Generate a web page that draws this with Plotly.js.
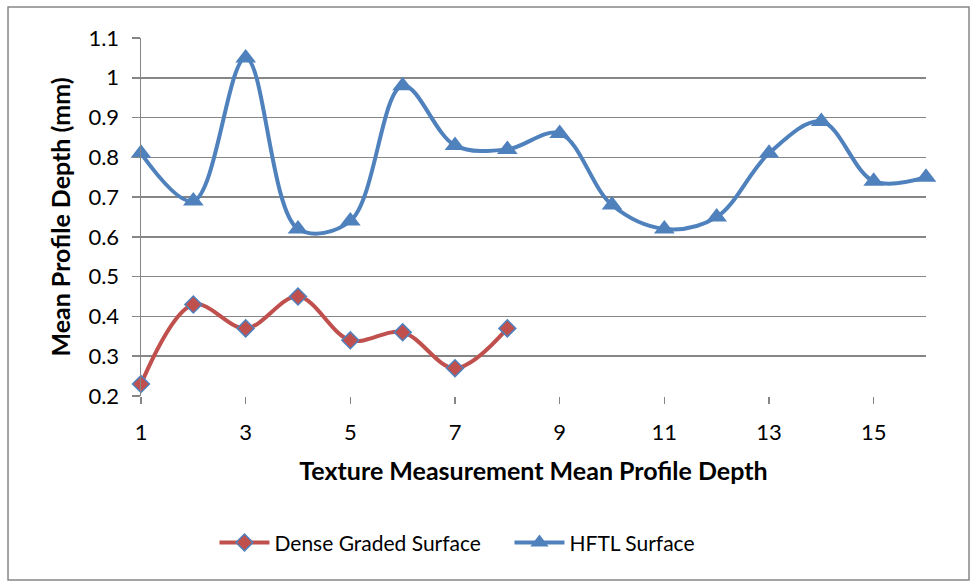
<!DOCTYPE html>
<html>
<head>
<meta charset="utf-8">
<script src="https://cdn.plot.ly/plotly-3.0.1.min.js"></script>
<style>
html,body{margin:0;padding:0;background:#fff;}
#chart{width:973px;height:583px;}
</style>
</head>
<body>
<div id="chart"></div>
<script>
const xDense = [1, 2, 3, 4, 5, 6, 7, 8];
const yDense = [0.23, 0.43, 0.37, 0.45, 0.34, 0.36, 0.27, 0.37];
const xHFTL = [1, 2, 3, 4, 5, 6, 7, 8, 9, 10, 11, 12, 13, 14, 15, 16];
const yHFTL = [0.81, 0.69, 1.05, 0.62, 0.64, 0.98, 0.83, 0.82, 0.86, 0.68, 0.62, 0.65, 0.81, 0.89, 0.74, 0.75];
const xTickVals = [1, 3, 5, 7, 9, 11, 13, 15];
const yTickVals = [0.2, 0.3, 0.4, 0.5, 0.6, 0.7, 0.8, 0.9, 1.0, 1.1];
const yTickText = ['0.2', '0.3', '0.4', '0.5', '0.6', '0.7', '0.8', '0.9', '1', '1.1'];
const seriesNames = ['Dense Graded Surface', 'HFTL Surface'];

const FONT = 'Lato, "Liberation Sans", sans-serif';

const traces = [
  {
    x: xDense, y: yDense, name: seriesNames[0], type: 'scatter', mode: 'lines+markers', cliponaxis: false,
    line: {color: '#C0504D', width: 4, shape: 'spline', smoothing: 1},
    marker: {symbol: 'diamond', size: 13, color: '#C0504D', line: {color: '#4F81BD', width: 1.5}}
  },
  {
    x: xHFTL, y: yHFTL, name: seriesNames[1], type: 'scatter', mode: 'lines+markers', cliponaxis: false,
    line: {color: '#4F81BD', width: 4, shape: 'spline', smoothing: 1},
    marker: {symbol: 'triangle-up', size: 18, color: '#4F81BD', line: {color: '#4F81BD', width: 0}}
  }
];

const layout = {
  width: 973, height: 583,
  margin: {l: 141, r: 47, t: 38, b: 187},
  paper_bgcolor: '#fff', plot_bgcolor: '#fff',
  font: {family: FONT, size: 22, color: '#000'},
  showlegend: true,
  legend: {orientation: 'h', x: 0.0936, xanchor: 'left', y: -0.41, yanchor: 'middle',
           font: {family: FONT, size: 21, color: '#000'}, itemwidth: 50, tracegroupgap: 0,
           entrywidth: 230, entrywidthmode: 'pixels'},
  xaxis: {
    range: [1, 16], tickvals: xTickVals, ticks: 'outside', ticklen: 7, tickcolor: '#868686', tickwidth: 1.5,
    ticklabelstandoff: 10,
    showgrid: false, zeroline: false, showline: false,
    tickfont: {family: FONT, size: 22},
    title: {text: '<b>Texture Measurement Mean Profile Depth</b>', font: {family: FONT, size: 25}, standoff: 18}
  },
  yaxis: {
    range: [0.2, 1.1], tickvals: yTickVals, ticktext: yTickText, ticks: 'outside', ticklen: 8,
    tickcolor: '#868686', tickwidth: 1.5, ticklabelstandoff: 8,
    showgrid: true, gridcolor: '#868686', gridwidth: 1.5, zeroline: false,
    showline: true, linecolor: '#868686', linewidth: 1.5,
    tickfont: {family: FONT, size: 22},
    title: {text: '<b>Mean Profile Depth (mm)</b>', font: {family: FONT, size: 25}, standoff: 10}
  },
  shapes: [
    {type: 'rect', xref: 'paper', yref: 'paper', x0: -0.1694, x1: 1.0548, y0: -0.514, y1: 1.0866,
     line: {color: '#868686', width: 1.5}, fillcolor: 'rgba(0,0,0,0)', layer: 'below'}
  ]
};

Plotly.newPlot('chart', traces, layout, {displayModeBar: false, staticPlot: true});
</script>
</body>
</html>
